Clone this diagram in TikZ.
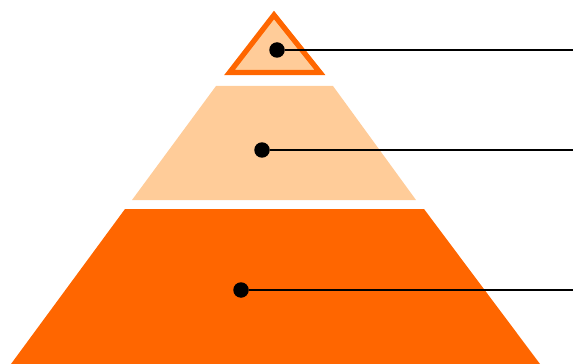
\documentclass[tikz,border=0pt]{standalone}
\usetikzlibrary{calc, positioning}
\definecolor{tierdark}{HTML}{FF6600}
\definecolor{tierlight}{HTML}{FFCC99}
\tikzset{
  tierdot/.style={circle, fill=black, inner sep=0pt, minimum size=0.31cm},
  leader/.style={line width=1.4pt}
}
\begin{document}
\begin{tikzpicture}[x=0.02cm, y=-0.02cm]
\def\rightx{573}
\useasboundingbox (0,0) rectangle (573,364);

% top tier
\coordinate (T0) at (274,15);
\coordinate (T1) at (229.5,72.5);
\coordinate (T2) at (320,72.5);
% middle tier
\coordinate (M0) at (216,86);
\coordinate (M1) at (333,86);
\coordinate (M2) at (416,200);
\coordinate (M3) at (132,200);
% bottom tier
\coordinate (B0) at (125,209);
\coordinate (B1) at (424,209);
\coordinate (B2) at (540,364);
\coordinate (B3) at (11,364);

\fill[tierdark] (B0) -- (B1) -- (B2) -- (B3) -- cycle;
\fill[tierlight] (M0) -- (M1) -- (M2) -- (M3) -- cycle;
\draw[tierdark, fill=tierlight, line width=3pt, line join=miter] (T0) -- (T1) -- (T2) -- cycle;

\node[tierdot] (D1) at (277,50) {};
\node[tierdot] (D2) at (262,150) {};
\node[tierdot] (D3) at (241,290) {};
\coordinate (E1) at (\rightx,50);
\coordinate (E2) at (\rightx,150);
\coordinate (E3) at (\rightx,290);

\draw[leader] (D1) -- (E1);
\draw[leader] (D2) -- (E2);
\draw[leader] (D3) -- (E3);
\end{tikzpicture}
\end{document}
